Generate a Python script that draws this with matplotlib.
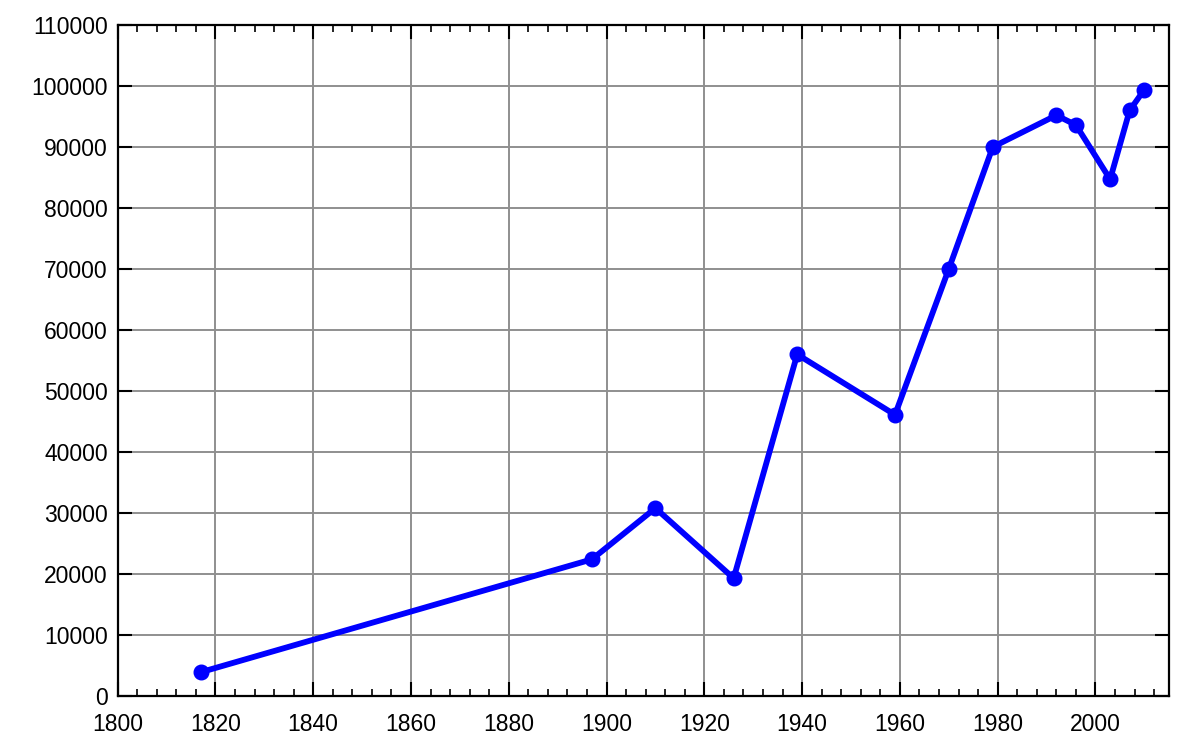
import matplotlib
matplotlib.use("Agg")
import matplotlib.pyplot as plt
from matplotlib.ticker import MultipleLocator

years = [1817, 1897, 1910, 1926, 1939, 1959, 1970, 1979, 1992, 1996, 2003, 2007, 2010]
population = [3900, 22400, 30800, 19300, 56000, 46100, 70000, 90000, 95200, 93600, 84700, 96000, 99400]

plt.rcParams['font.family'] = ['Liberation Sans', 'DejaVu Sans']

fig = plt.figure(figsize=(12, 7.5), dpi=100)
ax = fig.add_axes([0.098, 0.072, 0.876, 0.8947])

ax.plot(years, population, color='#0000ff', lw=4.2, marker='o', markersize=10.5,
        solid_joinstyle='round', solid_capstyle='round', zorder=3)

ax.set_xlim(1800, 2015)
ax.set_ylim(0, 110000)
ax.xaxis.set_major_locator(MultipleLocator(20))
ax.xaxis.set_minor_locator(MultipleLocator(4))
ax.yaxis.set_major_locator(MultipleLocator(10000))

ax.grid(True, which='major', color='#8f8f8f', lw=1.4, zorder=1)
ax.set_axisbelow(True)

ax.tick_params(axis='both', which='major', direction='in', length=10, width=1.5,
               labelsize=16.5, top=True, right=True, color='black')
ax.tick_params(axis='x', which='minor', direction='in', length=5, width=1.2, top=True)
ax.tick_params(axis='x', which='major', pad=12)
ax.tick_params(axis='y', which='major', pad=7)

for s in ax.spines.values():
    s.set_linewidth(1.6)
    s.set_color('black')

fig.savefig('out.png', dpi=100)
